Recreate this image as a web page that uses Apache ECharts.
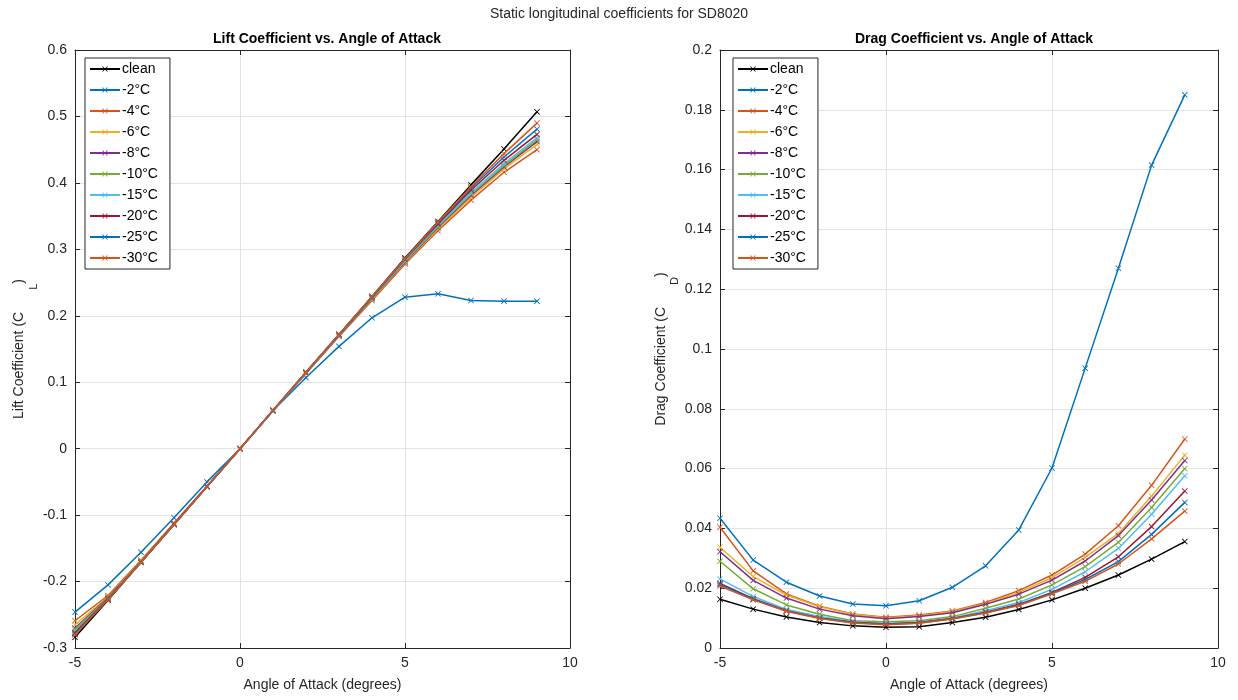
<!DOCTYPE html>
<html><head><meta charset="utf-8">
<script src="https://cdn.jsdelivr.net/npm/echarts@6/dist/echarts.min.js"></script>
<style>html,body{margin:0;padding:0;background:#fff}#c{width:1238px;height:700px}</style>
</head><body><div id="c"></div>
<script>
const alpha = [-5,-4,-3,-2,-1,0,1,2,3,4,5,6,7,8,9];
const names = ['clean','-2°C','-4°C','-6°C','-8°C','-10°C','-15°C','-20°C','-25°C','-30°C'];
const colors = ['#000000','#0072BD','#D95319','#EDB120','#7E2F8E','#77AC30','#4DBEEE','#A2142F','#0072BD','#D95319'];

const cl_clean = [-0.284,-0.228,-0.171,-0.114,-0.057,0,0.057,0.115,0.172,0.229,0.287,0.342,0.397,0.451,0.507];
const cl_m2  = [-0.246,-0.205,-0.156,-0.104,-0.050,0,0.057,0.107,0.154,0.197,0.228,0.233,0.223,0.222,0.222];
const cl_m4  = [-0.259,-0.221,-0.168,-0.112,-0.056,0,0.057,0.113,0.169,0.223,0.278,0.328,0.374,0.416,0.450];
const cl_m6  = [-0.265,-0.223,-0.169,-0.113,-0.057,0,0.057,0.114,0.170,0.225,0.280,0.331,0.378,0.421,0.458];
const cl_m8  = [-0.270,-0.224,-0.170,-0.113,-0.057,0,0.057,0.114,0.170,0.226,0.281,0.333,0.381,0.424,0.462];
const cl_m10 = [-0.272,-0.225,-0.170,-0.114,-0.057,0,0.057,0.114,0.171,0.226,0.282,0.334,0.383,0.426,0.465];
const cl_m15 = [-0.275,-0.226,-0.171,-0.114,-0.057,0,0.057,0.115,0.171,0.227,0.283,0.336,0.385,0.429,0.468];
const cl_m20 = [-0.277,-0.226,-0.171,-0.114,-0.057,0,0.058,0.115,0.172,0.228,0.285,0.338,0.389,0.434,0.473];
const cl_m25 = [-0.279,-0.227,-0.171,-0.114,-0.057,0,0.058,0.115,0.172,0.228,0.286,0.340,0.392,0.439,0.481];
const cl_m30 = [-0.280,-0.227,-0.171,-0.114,-0.057,0,0.058,0.115,0.172,0.229,0.286,0.341,0.394,0.444,0.490];

const cd_clean = [0.0163,0.0130,0.0104,0.0085,0.0074,0.0069,0.0071,0.0085,0.0103,0.0129,0.0161,0.0200,0.0244,0.0297,0.0356];
const cd_m2  = [0.0434,0.0294,0.0220,0.0174,0.0147,0.0141,0.0158,0.0203,0.0275,0.0395,0.0602,0.0936,0.1270,0.1615,0.1850];
const cd_m4  = [0.0404,0.0258,0.0181,0.0140,0.0114,0.0103,0.0110,0.0124,0.0152,0.0192,0.0244,0.0314,0.0409,0.0544,0.0699];
const cd_m6  = [0.0337,0.0239,0.0177,0.0138,0.0113,0.0101,0.0108,0.0122,0.0149,0.0186,0.0235,0.0303,0.0383,0.0508,0.0645];
const cd_m8  = [0.0322,0.0226,0.0167,0.0130,0.0108,0.0098,0.0105,0.0118,0.0146,0.0180,0.0227,0.0291,0.0376,0.0495,0.0627];
const cd_m10 = [0.0290,0.0198,0.0144,0.0113,0.0091,0.0088,0.0091,0.0105,0.0133,0.0164,0.0211,0.0272,0.0353,0.0470,0.0600];
const cd_m15 = [0.0231,0.0172,0.0129,0.0105,0.0088,0.0083,0.0087,0.0100,0.0125,0.0152,0.0196,0.0255,0.0333,0.0447,0.0576];
const cd_m20 = [0.0216,0.0165,0.0125,0.0100,0.0086,0.0080,0.0085,0.0099,0.0120,0.0146,0.0186,0.0236,0.0305,0.0406,0.0525];
const cd_m25 = [0.0212,0.0163,0.0124,0.0100,0.0085,0.0079,0.0084,0.0098,0.0118,0.0144,0.0183,0.0229,0.0289,0.0380,0.0487];
const cd_m30 = [0.0207,0.0161,0.0123,0.0099,0.0084,0.0078,0.0083,0.0097,0.0117,0.0142,0.0181,0.0223,0.0281,0.0365,0.0458];

const clSets = [cl_clean,cl_m2,cl_m4,cl_m6,cl_m8,cl_m10,cl_m15,cl_m20,cl_m25,cl_m30];
const cdSets = [cd_clean,cd_m2,cd_m4,cd_m6,cd_m8,cd_m10,cd_m15,cd_m20,cd_m25,cd_m30];

const FONT = '"Liberation Sans", Arial, Helvetica, sans-serif';
const AX = '#262626';
const XSYM = 'path://M0,1L1,0L5,4L9,0L10,1L6,5L10,9L9,10L5,6L1,10L0,9L4,5Z';
const fmt = v => String(parseFloat(v.toFixed(3)));

function axesFor(gi, xmin, xmax, xint, ymin, ymax, yint, yname){
  const common = {
    axisLine:{show:true,onZero:false,lineStyle:{color:AX,width:1}},
    axisTick:{show:true,inside:true,length:5,lineStyle:{color:AX}},
  };
  const xs = [
    Object.assign({type:'value',gridIndex:gi,min:xmin,max:xmax,interval:xint,position:'bottom',
      name:'Angle of Attack (degrees)',nameLocation:'middle',nameGap:30,
      nameTextStyle:{color:AX,fontSize:14,fontFamily:FONT},
      axisLabel:{color:AX,fontSize:14,fontFamily:FONT,margin:8,formatter:fmt},
      splitLine:{show:true,lineStyle:{color:'#e3e3e3'}}}, common),
    Object.assign({type:'value',gridIndex:gi,min:xmin,max:xmax,interval:xint,position:'top',
      axisLabel:{show:false},splitLine:{show:false}}, common)
  ];
  const ys = [
    Object.assign({type:'value',gridIndex:gi,min:ymin,max:ymax,interval:yint,position:'left',
      name:yname,nameLocation:'middle',nameGap:48,nameRotate:90,
      nameTextStyle:{color:AX,fontSize:14,fontFamily:FONT,
        rich:{sub:{fontSize:11,color:AX,fontFamily:FONT,padding:[0,0,-28,22]}}},
      axisLabel:{color:AX,fontSize:14,fontFamily:FONT,margin:8,formatter:fmt},
      splitLine:{show:true,lineStyle:{color:'#e3e3e3'}}}, common),
    Object.assign({type:'value',gridIndex:gi,min:ymin,max:ymax,interval:yint,position:'right',
      axisLabel:{show:false},splitLine:{show:false}}, common)
  ];
  return {xs, ys};
}

const a0 = axesFor(0,-5,10,5,-0.3,0.6,0.1,'Lift Coefficient (C{sub|L})');
const a1 = axesFor(1,-5,10,5,0,0.2,0.02,'Drag Coefficient (C{sub|D})');

const series = [];
function addSeries(sets, xi, yi){
  sets.forEach((vals,i)=>{
    series.push({
      type:'line', name:names[i], xAxisIndex:xi, yAxisIndex:yi,
      data: alpha.map((a,k)=>[a, vals[k]]),
      symbol:XSYM, symbolSize:6, showSymbol:true,
      lineStyle:{color:colors[i],width:1.5},
      itemStyle:{color:colors[i]},
      emphasis:{disabled:true}, animation:false, z:2+i
    });
  });
}
addSeries(clSets,0,0);
addSeries(cdSets,2,2);

function legendFor(left){
  return {
    orient:'vertical', left:left, top:58, data:names,
    backgroundColor:'#fff', borderColor:AX, borderWidth:1,
    padding:[4,12,4,4], itemGap:7, itemWidth:30, itemHeight:7,
    textStyle:{color:'#000',fontSize:14,fontFamily:FONT,padding:[0,0,0,-3],lineHeight:14},
    selectedMode:false
  };
}

const chart = echarts.init(document.getElementById('c'),null,{renderer:'canvas'});
chart.setOption({
  animation:false,
  backgroundColor:'#fff',
  title:[
    {text:'Static longitudinal coefficients for SD8020',left:'center',top:2,
      textStyle:{color:AX,fontSize:14,fontWeight:'normal',fontFamily:FONT}},
    {text:'Lift Coefficient vs. Angle of Attack',left:322,top:27,textAlign:'center',
      textStyle:{color:'#000',fontSize:14,fontWeight:'bold',fontFamily:FONT}},
    {text:'Drag Coefficient vs. Angle of Attack',left:969,top:27,textAlign:'center',
      textStyle:{color:'#000',fontSize:14,fontWeight:'bold',fontFamily:FONT}}
  ],
  grid:[
    {left:75,top:50,width:495,height:598},
    {left:720,top:50,width:498,height:598}
  ],
  xAxis:[...a0.xs, ...a1.xs],
  yAxis:[...a0.ys, ...a1.ys],
  legend:[legendFor(85), legendFor(733)],
  series:series
});
</script></body></html>
